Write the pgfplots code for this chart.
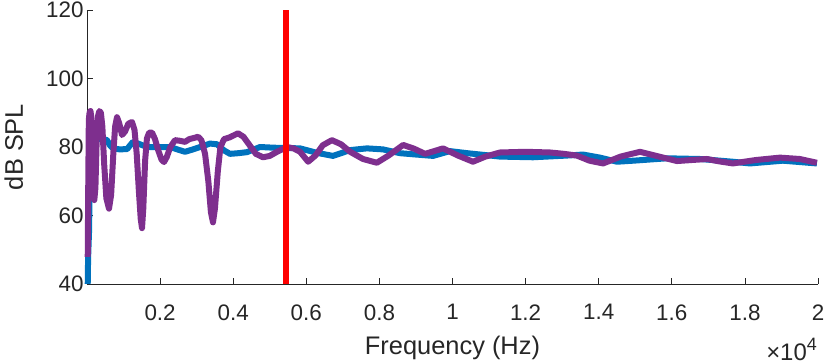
\documentclass[border=0pt]{standalone}
\usepackage{fontspec}
\setmainfont{Liberation Sans}
\usepackage{pgfplots}
\pgfplotsset{compat=1.18}
\definecolor{mblue}{rgb}{0,0.447,0.741}
\definecolor{mpurple}{rgb}{0.494,0.184,0.556}
\definecolor{axgray}{rgb}{0.15,0.15,0.15}
\begin{document}
\begin{tikzpicture}
\begin{axis}[
  at={(0,0)}, anchor=south west,
  scale only axis, width=731bp, height=274bp,
  xmin=0, xmax=20000, ymin=40, ymax=120,
  axis lines=left,
  axis line style={-, draw=axgray, line width=0.8bp},
  tick align=inside,
  major tick length=6.5bp,
  tick style={draw=axgray, line width=0.8bp},
  xtick={2000,4000,6000,8000,10000,12000,14000,16000,18000,20000},
  xticklabels={0.2,0.4,0.6,0.8,1,1.2,1.4,1.6,1.8,2},
  scaled x ticks=false,
  ytick={40,60,80,100,120},
  /pgf/number format/assume math mode=true,
  tick label style={font=\fontsize{22.5}{27}\selectfont, text=axgray},
  xticklabel style={yshift=-17bp},
  xlabel={Frequency (Hz)}, ylabel={dB SPL},
  every axis x label/.style={at={(axis description cs:0.5,-0.2555)}, anchor=base, inner sep=0pt,
     font=\fontsize{25.5}{30}\selectfont, text=axgray},
  every axis y label/.style={at={(axis description cs:-0.0876,0.5)}, rotate=90, anchor=base, inner sep=0pt,
     font=\fontsize{25.5}{30}\selectfont, text=axgray},
  clip=false,
]
\addplot[mblue, line width=6bp, line join=round] coordinates {
(20,40) (30,47.5) (55,55) (80,72) (100,79) (130,81.5) (200,82) (400,82.5)
(547,82) (629,80.5) (711,79.6) (900,79.3) (1100,79.4) (1180,80.5) (1259,81.5)
(1400,81) (1642,80) (1997,80) (2271,80) (2500,79.2) (2681,78.6) (2900,79.3)
(3092,80) (3365,81) (3557,80.8) (3750,79) (3912,78) (4150,78.2) (4378,78.5)
(4733,80) (5100,79.8) (5472,79.7) (5830,79.6) (6290,78.3) (6730,77.4)
(7200,79.1) (7660,79.6) (8100,79.3) (8560,78.2) (9000,77.8) (9470,77.4)
(9930,78.8) (10400,78.2) (11300,77.2) (12200,77) (13130,77.5) (13570,77.8)
(14035,76.9) (14500,75.7) (14940,76) (15870,76.7) (16770,76.5) (17670,75.7)
(18140,75.2) (19040,76) (19970,75.2)
};
\addplot[mpurple, line width=6bp, line join=round] coordinates {
(20,47.9) (35,70) (50,88) (70,90) (95,90.5) (115,89) (140,80) (170,68)
(200,64.5) (230,68) (265,82) (300,89) (340,90.5) (380,90) (420,86) (470,75)
(530,65) (602,62) (660,66) (720,78) (770,86) (821,88.7) (880,87) (958,83.5)
(1040,84.5) (1130,86.8) (1231,87.3) (1300,85) (1360,78) (1420,67) (1470,59)
(1505,56.3) (1540,62) (1590,76) (1640,82.5) (1700,84.2) (1780,84.2)
(1860,82.3) (1950,79) (2040,76.3) (2107,75.6) (2180,77) (2280,80) (2408,82)
(2550,81.8) (2681,81.5) (2800,82.3) (2950,82.7) (3037,83) (3130,82)
(3230,78) (3320,70) (3390,61) (3447,58) (3500,62) (3580,73) (3650,80)
(3750,82.3) (3900,82.8) (4131,84) (4280,83) (4450,80.5) (4620,78) (4815,77)
(5000,77.4) (5200,78.6) (5472,80) (5650,79.6) (5830,78.6) (6050,75.7)
(6250,77.5) (6450,80.5) (6700,82) (6950,80.8) (7200,78.6) (7550,76.5)
(7930,75.4) (8250,77.5) (8650,80.6) (8950,79.5) (9250,78) (9500,78.8)
(9740,79.6) (10150,77.5) (10560,75.7) (10900,77.2) (11300,78.4) (12000,78.6)
(12670,78.4) (13050,78) (13400,77.5) (13750,76) (14120,75.2) (14600,77.2)
(15130,78.6) (15650,77.2) (16140,75.9) (16550,76.2) (16960,76.5) (17300,75.8)
(17670,75.2) (18300,76.2) (18960,76.9) (19500,76.5) (19970,75.4)
};
\addplot[red, line width=6bp] coordinates {(5450,40) (5450,120)};
\node[anchor=base east, font=\fontsize{24}{28}\selectfont, text=axgray, inner sep=0pt]
  at (rel axis cs:1,0) [yshift=-76bp, xshift=-1bp] {×10\raisebox{10bp}{\fontsize{18}{21}\selectfont 4}};
\end{axis}
\pgfresetboundingbox
\path[use as bounding box] (-87bp,-80bp) rectangle (739bp,284bp);
\end{tikzpicture}
\end{document}
